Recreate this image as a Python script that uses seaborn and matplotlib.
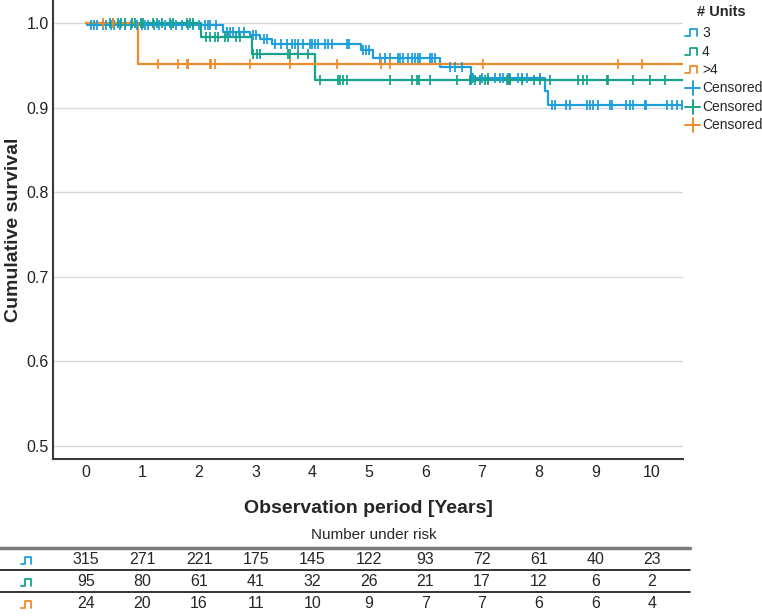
import numpy as np
import pandas as pd
import matplotlib
matplotlib.use("Agg")
import matplotlib.pyplot as plt
import matplotlib.transforms as mtransforms
from matplotlib.lines import Line2D
import seaborn as sns

# ---------------- data ----------------
groups = ["3", "4", ">4"]
colors = ["#1E9FDB", "#17A38B", "#EE8B2C"]

t3 = [0, 0.02, 2.43, 2.90, 3.07, 3.29, 4.87, 5.08, 6.25, 6.80, 8.11, 8.17]
s3 = [1.0, 0.9976, 0.989, 0.986, 0.981, 0.975, 0.968, 0.959, 0.9476, 0.9346, 0.9195, 0.903]
c3 = [0.1, 0.15, 0.2, 0.3, 0.35, 0.45, 0.5, 0.6, 0.7, 0.8, 0.9, 1.0, 1.05, 1.1, 1.2, 1.3,
      1.4, 1.5, 1.6, 1.7, 1.8, 1.9, 2.0, 2.1, 2.15, 2.2, 2.3,
      2.5, 2.55, 2.6, 2.7, 2.8, 2.95, 3.0, 3.15, 3.2,
      3.35, 3.45, 3.55, 3.65, 3.7, 3.75, 3.83, 3.96, 4.0, 4.05, 4.1, 4.22, 4.28, 4.35, 4.61, 4.65,
      4.9, 4.95, 5.0,
      5.19, 5.28, 5.37, 5.51, 5.55, 5.6, 5.69, 5.76, 5.81, 5.87, 5.90, 6.08, 6.11, 6.17,
      6.43, 6.52, 6.64,
      6.82, 6.84, 7.0, 7.1, 7.23, 7.31, 7.37, 7.46, 7.49, 7.63, 7.70, 7.79, 8.02,
      8.23, 8.29, 8.49, 8.55, 8.85, 8.9, 8.96, 9.05, 9.26, 9.29, 9.55, 9.61, 9.67, 9.87, 9.90,
      10.26, 10.35, 10.44, 10.53]

t4 = [0, 2.04, 2.93, 4.05]
s4 = [1.0, 0.984, 0.963, 0.9325]
c4 = [0.42, 0.48, 0.57, 0.63, 0.69, 0.81, 0.87, 0.98, 1.01, 1.19, 1.25, 1.34, 1.48, 1.54, 1.78, 1.84, 1.90,
      2.13, 2.19, 2.28, 2.34, 2.46, 2.51, 2.66, 2.72,
      2.96, 3.02, 3.07, 3.57, 3.60, 3.75, 3.93,
      4.13, 4.46, 4.49, 4.55, 4.61, 5.37, 5.76, 5.85, 5.88, 6.08, 6.55, 6.78, 6.81, 6.87, 6.96, 7.05,
      7.11, 7.44, 7.47, 7.49, 7.70, 7.91, 8.02, 8.20, 8.70, 8.79, 8.85, 9.20, 9.23, 9.67, 9.96, 10.23]

t5 = [0, 0.92]
s5 = [1.0, 0.952]
c5 = [0.31, 0.48, 1.28, 1.63, 1.78, 1.81, 2.19, 2.22, 2.28, 2.90, 3.60, 4.43, 5.22, 5.37, 7.02, 9.41, 9.82]

end_time = 10.55

risk_times = [0, 1, 2, 3, 4, 5, 6, 7, 8, 9, 10]
risk3 = [315, 271, 221, 175, 145, 122, 93, 72, 61, 40, 23]
risk4 = [95, 80, 61, 41, 32, 26, 21, 17, 12, 6, 2]
risk5 = [24, 20, 16, 11, 10, 9, 7, 7, 6, 6, 4]

# ---------------- build tables ----------------
series = [(groups[0], t3, s3, c3), (groups[1], t4, s4, c4), (groups[2], t5, s5, c5)]
rows, crows = [], []
for g, ts, ss, cs in series:
    for t, s in zip(ts + [end_time], ss + [ss[-1]]):
        rows.append((g, t, s))
    ts_a = np.array(ts)
    for c in cs:
        idx = np.searchsorted(ts_a, c, side="right") - 1
        crows.append((g, c, ss[idx]))
df = pd.DataFrame(rows, columns=["group", "t", "S"])
cdf = pd.DataFrame(crows, columns=["group", "t", "S"])
pal = dict(zip(groups, colors))

# ---------------- plot ----------------
sns.set_theme(style="white")
plt.rcParams["font.family"] = ["Liberation Sans", "DejaVu Sans"]

W, H = 762, 616
fig = plt.figure(figsize=(W / 100, H / 100), dpi=100)
ax = fig.add_axes([53 / W, 1 - 459 / H, 630 / W, 459 / H])

sns.lineplot(data=df, x="t", y="S", hue="group", palette=pal, drawstyle="steps-post",
             estimator=None, sort=False, linewidth=1.6, ax=ax, legend=False)
for g in groups:
    sub = cdf[cdf.group == g]
    sns.scatterplot(data=sub, x="t", y="S", color=pal[g], marker="|", s=60,
                    linewidth=1.3, ax=ax, legend=False, zorder=3)

ax.set_xlim(-0.58, end_time)
ax.set_ylim(0.4846, 1.0272)
ax.set_xticks(risk_times)
ax.set_yticks([0.5, 0.6, 0.7, 0.8, 0.9, 1.0])
ax.set_yticklabels([f"{v:.1f}" for v in [0.5, 0.6, 0.7, 0.8, 0.9, 1.0]])
ax.tick_params(axis="both", labelsize=11.5, length=0, colors="#222222")
ax.tick_params(axis="x", pad=4)
ax.tick_params(axis="y", pad=3)
ax.yaxis.grid(True, color="#d9d9d9", linewidth=1)
ax.xaxis.grid(False)
for side in ["top", "right"]:
    ax.spines[side].set_visible(False)
for side in ["left", "bottom"]:
    ax.spines[side].set_color("#3a3a3a")
    ax.spines[side].set_linewidth(1.5)
ax.set_xlabel("Observation period [Years]", fontsize=14, fontweight="bold", labelpad=15)
ax.set_ylabel("Cumulative survival", fontsize=14, fontweight="bold", labelpad=3)

# ---------------- legend (manual) ----------------
def fx(x):
    return x / W

def fy(y):
    return 1 - y / H

fig.text(fx(697), fy(12), "# Units", fontsize=10.5, fontweight="bold", va="center", ha="left")
leg_y = [33, 52, 70, 88, 107, 125]
for i, g in enumerate(groups):
    y = leg_y[i]
    xs = [685, 690, 690, 697, 697]
    ys = [y + 3, y + 3, y - 4, y - 4, y + 3]
    fig.add_artist(Line2D([fx(v) for v in xs], [fy(v) for v in ys], color=colors[i], lw=1.3))
    fig.text(fx(702), fy(y), g, fontsize=10, va="center", ha="left")
for i, g in enumerate(groups):
    y = leg_y[3 + i]
    fig.add_artist(Line2D([fx(685), fx(700)], [fy(y), fy(y)], color=colors[i], lw=1.4))
    fig.add_artist(Line2D([fx(692.5), fx(692.5)], [fy(y - 7), fy(y + 7)], color=colors[i], lw=1.4))
    fig.text(fx(702), fy(y), "Censored", fontsize=10, va="center", ha="left")

# ---------------- number at risk table ----------------
fig.text(fx(374), fy(535), "Number under risk", fontsize=11, ha="center", va="center")
fig.add_artist(Line2D([0, fx(690)], [fy(548), fy(548)], color="#7a7a7a", lw=2.5))
fig.add_artist(Line2D([0, fx(690)], [fy(570), fy(570)], color="#111111", lw=1.2))
fig.add_artist(Line2D([0, fx(690)], [fy(592), fy(592)], color="#111111", lw=1.2))
trans = mtransforms.blended_transform_factory(ax.transData, fig.transFigure)
row_y = [560, 582, 604]
for i, vals in enumerate([risk3, risk4, risk5]):
    y = row_y[i]
    for t, v in zip(risk_times, vals):
        fig.text(t, fy(y), str(v), transform=trans, fontsize=11.5, ha="center", va="center")
    xs = [21, 25, 25, 31, 31]
    ys = [y + 4, y + 4, y - 3, y - 3, y + 4]
    fig.add_artist(Line2D([fx(v) for v in xs], [fy(v) for v in ys], color=colors[i], lw=1.3))

fig.savefig("out.png", dpi=100)
